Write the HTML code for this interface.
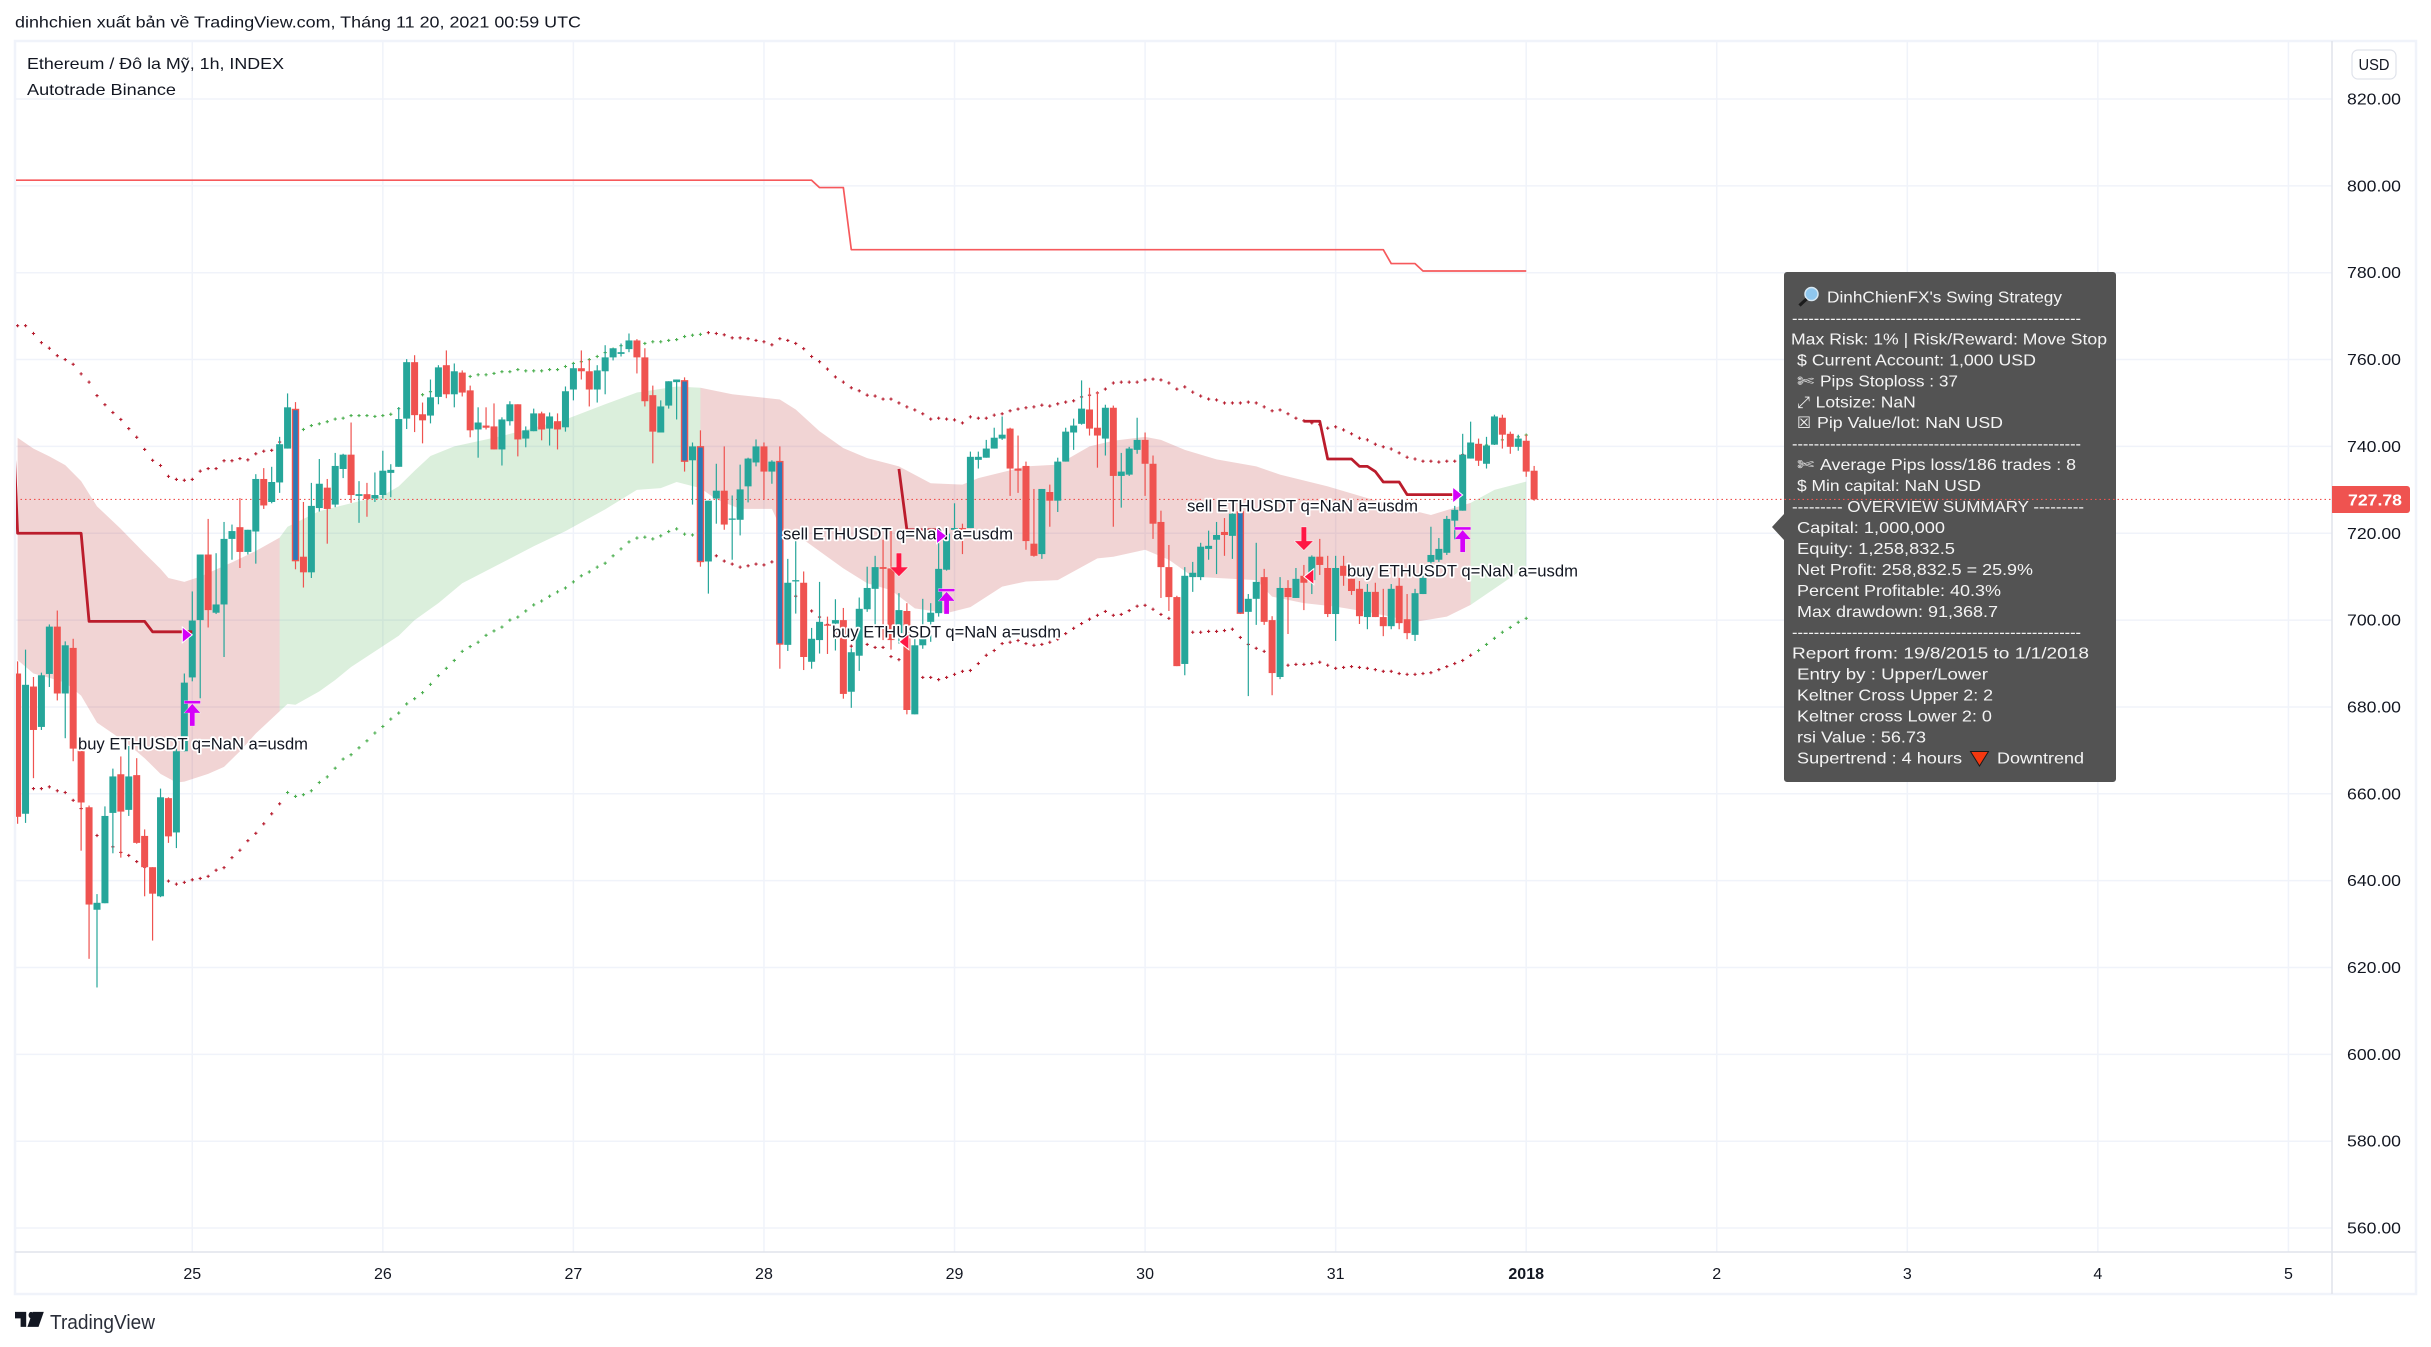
<!DOCTYPE html>
<html lang="vi">
<head>
<meta charset="utf-8">
<title>Ethereum / Đô la Mỹ, 1h, INDEX</title>
<style>
html,body{margin:0;padding:0;background:#fff;width:2431px;height:1347px;overflow:hidden}
svg{display:block}
text{font-family:"Liberation Sans","DejaVu Sans",sans-serif;font-size:16px;fill:#131722}
.p text{fill:#f4f4f4}
.sym{font-family:"DejaVu Sans","Liberation Sans",sans-serif!important}
.sig{paint-order:stroke;stroke:#fff;stroke-width:3.5px;stroke-linejoin:round;fill:#131722;font-size:16.5px}
</style>
</head>
<body>
<svg id="chart" xmlns="http://www.w3.org/2000/svg" width="2431" height="1347" viewBox="0 0 2431 1347">
<defs><clipPath id="plot"><rect x="16" y="42" width="2316" height="1210"/></clipPath></defs>
<rect width="2431" height="1347" fill="#fff"/>
<text x="15" y="27.5" textLength="566" lengthAdjust="spacingAndGlyphs">dinhchien xuất bản về TradingView.com, Tháng 11 20, 2021 00:59 UTC</text>
<rect x="15" y="41" width="2401" height="1253" fill="none" stroke="#f0f3fa" stroke-width="2.5"/>
<g id="grid"></g>
<g clip-path="url(#plot)">
<g id="bands"></g>
<g id="dots"></g>
<g id="topline"></g>
<g id="priceline"></g>
<g id="candles"></g>
<g id="stoplines"></g>
<text class="sig" x="78" y="749.5" textLength="230" lengthAdjust="spacingAndGlyphs">buy ETHUSDT q=NaN a=usdm</text>
<text class="sig" x="783" y="539.5" textLength="230" lengthAdjust="spacingAndGlyphs">sell ETHUSDT q=NaN a=usdm</text>
<text class="sig" x="832" y="637.5" textLength="229" lengthAdjust="spacingAndGlyphs">buy ETHUSDT q=NaN a=usdm</text>
<text class="sig" x="1187" y="511.5" textLength="231" lengthAdjust="spacingAndGlyphs">sell ETHUSDT q=NaN a=usdm</text>
<text class="sig" x="1347" y="576.5" textLength="231" lengthAdjust="spacingAndGlyphs">buy ETHUSDT q=NaN a=usdm</text>
<g id="markers"></g>
</g>
<line x1="2332" y1="41" x2="2332" y2="1294" stroke="#e0e3eb" stroke-width="1.5"/>
<line x1="15" y1="1252" x2="2416" y2="1252" stroke="#e0e3eb" stroke-width="1.5"/>
<g id="axes"></g>
<rect x="2352" y="50" width="44" height="29" rx="6" fill="#fff" stroke="#e0e3eb" stroke-width="1.2"/>
<text x="2374" y="70" text-anchor="middle" font-size="15" textLength="31" lengthAdjust="spacingAndGlyphs">USD</text>
<text x="27" y="69" textLength="257" lengthAdjust="spacingAndGlyphs">Ethereum / Đô la Mỹ, 1h, INDEX</text>
<text x="27" y="95" textLength="149" lengthAdjust="spacingAndGlyphs">Autotrade Binance</text>

<g class="p">
<path d="M1787 272H2113a3 3 0 0 1 3 3V779a3 3 0 0 1-3 3H1787a3 3 0 0 1-3-3V540L1772 527L1784 514V275a3 3 0 0 1 3-3Z" fill="#535353"/>
<g><circle cx="1811.5" cy="294" r="6.5" fill="#8fc7ee" stroke="#d8e8f2" stroke-width="1.5"/><line x1="1806.5" y1="299" x2="1799.5" y2="305.5" stroke="#1c1c1c" stroke-width="3.2"/></g>
<text x="1827" y="302.5" textLength="235" lengthAdjust="spacingAndGlyphs">DinhChienFX's Swing Strategy</text>
<text x="1792" y="323.5" textLength="289" lengthAdjust="spacingAndGlyphs">-----------------------------------------------------</text>
<text x="1791" y="344.4" textLength="316" lengthAdjust="spacingAndGlyphs">Max Risk: 1% | Risk/Reward: Move Stop</text>
<text x="1797" y="365.4" textLength="239" lengthAdjust="spacingAndGlyphs">$ Current Account: 1,000 USD</text>
<text class="sym" x="1797" y="386.3" textLength="17" lengthAdjust="spacingAndGlyphs">✄</text>
<text x="1820" y="386.3" textLength="138" lengthAdjust="spacingAndGlyphs">Pips Stoploss : 37</text>
<text class="sym" x="1797" y="407.3" textLength="13" lengthAdjust="spacingAndGlyphs">⤢</text>
<text x="1815.7" y="407.3" textLength="100" lengthAdjust="spacingAndGlyphs">Lotsize: NaN</text>
<text class="sym" x="1797" y="428.2" textLength="14" lengthAdjust="spacingAndGlyphs">☒</text>
<text x="1817" y="428.2" textLength="186" lengthAdjust="spacingAndGlyphs">Pip Value/lot: NaN USD</text>
<text x="1792" y="449.2" textLength="289" lengthAdjust="spacingAndGlyphs">-----------------------------------------------------</text>
<text class="sym" x="1797" y="470.1" textLength="17" lengthAdjust="spacingAndGlyphs">✄</text>
<text x="1820" y="470.1" textLength="256" lengthAdjust="spacingAndGlyphs">Average Pips loss/186 trades : 8</text>
<text x="1797" y="491.1" textLength="184" lengthAdjust="spacingAndGlyphs">$ Min capital: NaN USD</text>
<text x="1792" y="512" textLength="292" lengthAdjust="spacingAndGlyphs">--------- OVERVIEW SUMMARY ---------</text>
<text x="1797" y="532.9" textLength="148" lengthAdjust="spacingAndGlyphs">Capital: 1,000,000</text>
<text x="1797" y="553.9" textLength="158" lengthAdjust="spacingAndGlyphs">Equity: 1,258,832.5</text>
<text x="1797" y="574.9" textLength="236" lengthAdjust="spacingAndGlyphs">Net Profit: 258,832.5 = 25.9%</text>
<text x="1797" y="595.8" textLength="204" lengthAdjust="spacingAndGlyphs">Percent Profitable: 40.3%</text>
<text x="1797" y="616.8" textLength="201" lengthAdjust="spacingAndGlyphs">Max drawdown: 91,368.7</text>
<text x="1792" y="637.7" textLength="289" lengthAdjust="spacingAndGlyphs">-----------------------------------------------------</text>
<text x="1792" y="658.7" textLength="297" lengthAdjust="spacingAndGlyphs">Report from: 19/8/2015 to 1/1/2018</text>
<text x="1797" y="679.6" textLength="191" lengthAdjust="spacingAndGlyphs">Entry by : Upper/Lower</text>
<text x="1797" y="700.6" textLength="196" lengthAdjust="spacingAndGlyphs">Keltner Cross Upper 2: 2</text>
<text x="1797" y="721.5" textLength="195" lengthAdjust="spacingAndGlyphs">Keltner cross Lower 2: 0</text>
<text x="1797" y="742.5" textLength="129" lengthAdjust="spacingAndGlyphs">rsi Value : 56.73</text>
<text x="1797" y="763.4" textLength="165" lengthAdjust="spacingAndGlyphs">Supertrend : 4 hours</text>
<polygon points="1970.5,751.5 1988.5,751.5 1979.5,766" fill="#f4380f" stroke="#1a1a1a" stroke-width="1"/>
<text x="1997" y="763.4" textLength="87" lengthAdjust="spacingAndGlyphs">Downtrend</text>
</g>
<g id="priceline2"></g>
<path d="M2332 486H2407a3 3 0 0 1 3 3V510a3 3 0 0 1-3 3H2332Z" fill="#ef5350"/>
<text x="2348" y="505.5" textLength="54" lengthAdjust="spacingAndGlyphs" font-weight="bold" style="fill:#fff">727.78</text>
<g transform="translate(15,1305.5) scale(.8,1.07)" fill="#131722"><path d="M14 6H0v6h7v8h7V6Z"/><circle cx="20" cy="9" r="3"/><path d="M22.2 20h-6.7l6.6-14H36l-6.6 14h-7.2Z" /></g>
<text x="50" y="1329" font-size="20" textLength="105" lengthAdjust="spacingAndGlyphs" style="font-size:20px;fill:#2a2e39">TradingView</text>
</svg>
<script>
const priceTicks = [820,800,780,760,740,720,700,680,660,640,620,600,580,560];
const dayLabels = ["25","26","27","28","29","30","31","2018","2","3","4","5"];
const dayStartBars = [22,46,70,94,118,142,166,190,214,238,262,286];
const opens = [
687.7,655.4,684.7,675.4,687.6,698.5,683.1,693.6,670.1,656.9,
633.3,634.8,655.6,664.5,656.3,664.3,650.3,643.1,636.4,659,
651.1,669.8,686.8,700,715.1,701.7,703.6,718.7,721.4,715.7,
720.4,732.5,727.2,731.7,739.5,748.5,714.6,711,725.8,730.5,
726.6,734.8,738.1,728.6,729,728,728.8,733.9,735.3,746.4,
759.4,747.4,747.1,751.4,758.7,752,757,752.9,743.9,744.8,
744.6,739.3,745.8,749.7,741.8,743.5,747.6,744.1,745.8,744.4,
753.1,758,757.3,753.1,757.3,760.5,761.3,762.4,764.4,760.5,
751.8,743.2,749.4,754.8,755.1,736.8,739.9,713.5,728,729.8,
723.1,723.1,730.8,736.3,740,734.2,736.5,694.3,708.9,708.6,
690.4,695.4,699,699.2,700,683.5,691.8,702.5,707.2,712.2,
711.9,697,702.1,678.3,694.2,699.6,701.6,711.6,720.8,721.2,
721.2,736.9,737.4,739.5,741.8,744.1,734.9,735.5,717.6,715.2,
729.5,727.5,736.5,743.2,745.2,748.5,744.3,741.8,748.9,733.2,
733.5,739.2,741.5,736,722.6,712.2,705.3,689.9,709.9,709.9,
716.4,718.5,720.3,719.4,724.9,701.9,704.9,709.9,700,686.9,
707.4,705.1,710.2,709.2,714.6,712,701.4,712.5,709.5,707.2,
700.7,706.5,700.7,698.6,707.9,700.2,696.6,706,713.4,713.9,
715.5,722.9,725.2,737.2,740.6,736,740.4,746.6,742.9,739.9,741.3,734.4];
const highs = [
690.5,693.2,686.9,687.9,699,702.2,695.1,695.7,670.1,657.3,
636.9,657.1,665.8,668.6,671,668.2,651.8,643.1,661.2,659.2,
671.3,687.7,706.6,715.1,723.3,715.4,722.6,722,728.1,720.8,
733.6,735,735.3,742.2,752.2,750.2,727.2,731.6,737.1,732.5,
738.5,738.3,745.5,732,731.6,734,739,735.9,749,760.1,
761,750.1,755.4,758.7,762.1,759.1,757.5,754,749,749,
749.9,746.7,750.4,749.7,744.6,748.7,748,747.8,747.6,753.8,
759.1,762.1,760,758.7,763.3,762.6,763.7,766,764.7,762.6,
754,750.6,755,755.4,755.9,740.9,743.7,727.5,736,740,
728.7,735.8,737.4,741.6,740.9,736.8,740,714.1,718.3,711.2,
698.2,708.8,700.8,704.8,702.8,693.5,705.2,712.3,714.8,718.5,
720.8,706.2,703.9,696,704.9,703.9,717.7,720.8,726.9,722.2,
738.8,738.8,741.5,744.3,746.9,744.3,742.5,736.5,730.2,730.2,
731.2,737.4,744.3,746.4,755.2,753.5,752.6,749.6,749.4,738.5,
739.9,746.6,743.2,737.9,725.2,717.3,705.6,712.2,713.4,717.8,
720.6,722.6,723.5,725.6,726.5,706,717.8,711.8,700.9,709.9,
709.2,712,712.7,714.9,718.7,714.8,714.8,714.8,709.5,709,
708.3,708.6,707.2,708.3,709.7,706,707.2,711.6,721.5,718.9,
724,726.3,742.9,745.7,741.8,742.2,747.3,747.3,743.4,742.7,742.7,735.5];
const lows = [
653.1,653.3,663.6,674.7,684.6,681.5,672.8,667.5,646.9,622,
615.4,634.8,646.3,645.3,654.9,648.5,636.4,626.2,636.2,648.7,
647.5,669.8,685.9,682,698.3,701.4,691.5,713.9,712,715.1,
713,725.6,726.9,729.3,739.5,711.7,707.5,709.7,725,717.6,
726,732.7,727,722.4,723.8,727.2,728,728.3,735.3,744,
743.3,740.7,745.3,749.7,751.1,749,751.5,742.1,737.4,743.9,
739.3,735.6,744.8,737.7,739.8,743.5,741.4,740.2,739.3,743.4,
750.6,755.4,749.2,750.1,752,759.8,760.7,761.7,756.8,749.2,
736.1,743.2,748.7,746.2,734.2,726.6,712.3,706.1,722.2,720.8,
713.9,719.5,727.1,735.4,727.8,731.4,688.8,692.9,701.5,688.5,
688.8,692.3,692.2,693,681.9,679.8,688.3,701.9,698.6,695.4,
693.2,694.6,678.3,678.3,693.4,695,700.8,711.4,718.5,715.2,
721.2,734.9,737.4,739.5,741.5,728.6,729.3,716.2,714.6,714.1,
721.5,724.9,736.5,739.2,745,742.5,735.1,737.9,721.5,725.9,
733.2,738.3,728.6,718.7,705.1,702.1,689.4,687.3,706.5,709.2,
713.9,710.6,714.8,714.1,701.4,682.5,698.9,698.9,682.7,686.4,
696.8,705.1,702.3,706,710.4,700.7,695.2,707.9,705.8,699.1,
697.9,700.7,696.3,697.9,697.9,695.6,695.2,706,711,713.4,
715,718.5,725.2,737.2,735.5,734.9,740.4,739.5,738.3,739,733,727.5];
const closes = [
654.7,685.1,674.7,687.3,698.5,683.1,694.2,670.4,658,634.5,
634.9,654.9,664,655.9,664,648.7,643.1,637,659.2,650.2,
669.8,685.6,699.9,715.1,702.3,703.6,718.7,720.5,715.7,720.8,
732.5,726.4,731.8,740.5,749,713.7,711,726.3,731.4,725.6,
735.5,738.1,728.8,729,727.9,728.8,734.4,734.6,746.3,759.4,
747.2,746,751.3,758.2,752,757.3,752.4,743.7,745.5,744.3,
739.3,746.2,749.7,741.6,743.7,747.6,743.9,746.9,743.9,752.7,
758,757.3,753.1,757.5,760.5,762.6,761.7,764.4,760.5,750.4,
743.4,749.2,755,755.4,736.6,740,713.5,727.5,729.8,722,
723.4,730.1,737.2,740,734.2,736.5,694.5,708.6,709.2,691.5,
695.7,699.6,698.7,700,683,692.6,702.6,707.4,712.2,711.8,
695.4,702.3,679.3,694.2,696.2,701.7,711.8,719.9,721.2,720,
737.6,737.6,739.5,742,742.7,734.9,734.4,718.2,714.8,730.2,
727.5,736.5,743.4,744.8,748.7,744.1,742.5,748.9,733.2,734.2,
739.5,741.5,736,722.2,712.2,705.3,689.4,710.2,710.9,716.9,
717.1,719.6,719.6,724.5,701.6,704.9,708.8,699.6,687.8,707.4,
705.3,709.5,708.6,714.6,712.7,701.4,712,710.2,706.7,700.9,
706.5,700.7,698.6,707.2,699.3,697,706.2,709.7,715,716.4,
723.3,725.4,738.1,740.9,736.7,740.2,746.9,742.7,739.9,741.8,734.2,727.78];
const highlightedBars = [35,84,86,96,154];
const lastPrice = 727.78;
const upperDots = [
767.8,767.8,766,763.9,762.6,760.9,760,758.9,756.7,754.8,
751.7,749.6,747.8,746.2,744.1,742.1,739.3,736.8,735.6,733.1,
732.4,732.2,732.4,734.3,734.9,734.9,736.7,736.7,737.2,736.9,
738.3,738.9,739.1,741,742,743,743.9,744.8,745.2,745.7,
746.3,746.5,747.1,747.1,747.1,746.9,747.1,747.4,748.7,750,
751,751.9,752.6,753.5,754.3,755,755.5,756.1,756.5,756.5,
756.8,757.2,757.2,757.7,757.4,757.4,757.4,757.7,757.7,758.4,
759.1,759.5,760,760.7,761.6,762.4,763.2,763.9,764,763.7,
764.1,764.1,764.4,764.6,765.3,765.6,765.8,766.2,766,765.7,
765,765,764.8,764.4,764.1,763.4,764.8,764.4,763.7,762.5,
760.7,759.5,757.8,756,754.8,753.5,752.8,751.8,751.6,750.9,
750.9,750,749.1,748.4,747.5,746.3,746.5,746.3,746.1,745.4,
746.8,746.5,746.5,747.2,747.5,748.2,748.6,748.9,749.1,749.5,
749.3,749.8,750.2,750.5,751.4,751.8,752.3,753.2,754.6,754.8,
754.8,754.8,755.3,755.5,755.3,754.6,753.2,753.7,752.5,751.6,
750.9,750.7,750,750,750,750.2,750,749.1,748.2,748.4,
747.5,746.5,745.9,745.4,745,744.2,744.5,743.8,742.9,741.9,
741.5,740.5,739.9,739.4,738.5,737.5,737.1,736.6,736.6,736.4,
736.6,736.6,738.1,739,739.8,740.3,740.7,741.5,741.9,742.2,742.6];
const lowerDots = [
661.6,661.3,661.2,661.2,661.6,660.7,660.3,658.5,656.6,654,
650.4,648,647.8,646.5,645.8,644.4,643.1,641,639.5,639.9,
639.2,639.6,640.2,640.5,641,642.4,643,645.3,647,649.2,
650.9,653.1,655.4,657.7,660.3,659.4,659.8,660.7,662.6,663.9,
665.9,668,669,670.6,672.2,674,675.5,677.2,678.6,680.7,
681.9,683.3,685.2,687.2,688.9,690.7,692.8,693.9,694.9,696.5,
697.5,698.4,700,700.7,702.1,703.5,704.4,705.5,706.5,707.4,
708.8,710.2,711.1,712.2,713.1,714.8,716.4,718,718.9,719.1,
718.7,719.4,720.4,721,719.8,719.6,717,716,714.8,713.6,
712.9,712.2,712.5,712.9,712.7,713.4,711,708,705.5,703.5,
702.1,700.7,699,697,695,694,693.5,694.4,693.7,693.7,
691.6,690.9,690,689,686.8,686.8,686.3,686.8,687.5,688.2,
688.4,690,691.9,693,694.6,694.9,695.3,694.6,694.2,694.4,
694.9,695.6,696.9,698.1,699.2,700.2,701.1,702,701.1,701.3,
702.2,703.2,703.4,702.5,701.3,700.4,698,696,697.2,697.2,
697.4,697.4,697.6,697.9,696,694.4,693.5,692.8,691,690,
689.6,689.8,689.8,690,690.3,689.6,688.9,689.1,689.3,689.1,
688.9,688.6,688.2,688.2,687.7,687.5,687.5,687.7,687.9,688.6,
689.3,690,690.7,691.9,693,694.4,695.8,697.2,698.3,699.5,700.4];
const bandUpperBars = [0,2,4,6,8,10,13,16,18,19,21,23,27,30,33,34,38,46,48,50,52,55,61,69,74,78,83,86,90,96,98,101,104,107,111,115,119,121,127,131,135,138,142,144,147,151,156,159,165,170,174,178,183,186,190];
const bandUpperValues = [742,739.5,737.7,735.7,732,726.2,721,715.4,711.8,709.7,708.8,710,713.3,715.9,719,721.5,725.1,728.7,730.8,734.4,737.8,740,742.4,746.2,749.7,752.4,753.8,753.5,752,750.8,748.5,743.5,739.6,737.3,735.4,731.5,731.2,732.7,735.4,735.8,740,741.3,742.2,741.5,739.2,737,735.4,733.5,730.8,728.1,726,724.2,727,730,731.9];
const bandLowerBars = [0,2,4,6,8,10,12,14,16,18,20,21,24,26,28,30,33,34,35,38,40,42,45,48,50,53,56,61,65,69,74,78,81,83,86,88,91,95,96,99,104,107,110,113,117,120,124,127,131,136,138,142,145,148,156,158,162,166,170,176,180,183,187,190];
const bandLowerValues = [690.8,687.7,686.7,685.6,682.6,676.4,673.9,671.3,668.2,664.6,662.6,662.8,664.6,666.2,669.8,673.9,679,680.7,680.5,683.6,686.2,689.2,692.8,696.4,700,703.9,708.5,713.2,717,720.5,725.5,730,730.4,731.8,730.4,727.8,725.6,725.6,721.6,718.5,711.9,708.5,706.9,702.7,701.6,703,707.7,708.9,709.2,714.2,714.6,716.2,713.9,710,709.2,705.4,703.9,703.1,701.9,699.6,700.8,703.5,708.5,712.3];
const trendStartBars = [0,33,86,183];
const trendEndBars = [33,86,183,190];
const trendIsUp = [false,true,false,true];
const topLineBars = [-2,100,101,104,105,172,173,176,177,190];
const topLineValues = [801.3,801.3,799.6,799.6,785.3,785.3,782.1,782.1,780.4,780.4];
const stopABars = [-1,0,8,9,16,17,22];
const stopAValues = [764.6,720,720,699.7,699.7,697.3,697.3];
const stopBBars = [111,112,116];
const stopBValues = [734.8,720.8,720.8];
const stopCBars = [162,164,165,168,169,170,171,172,174,175,181];
const stopCValues = [745.8,745.8,737.1,737.1,735.4,735.4,734.2,731.8,731.8,728.9,728.9];
const buyArrowBars = [22,117,182];
const buyArrowPrices = [681.4,707.2,721.4];
const buyFlagBars = [22,117,182];
const buyFlagPrices = [696.6,719.4,728.8];
const sellArrowBars = [111,162];
const sellArrowPrices = [710.1,716.1];
const sellFlagBars = [111,162];
const sellFlagPrices = [695,710];

const NS = 'http://www.w3.org/2000/svg';
function x(bar){ return 17.6 + 7.94 * bar; }
function y(price){ return 99 + (820 - price) * 4.3425; }
function mk(tag, attrs, parent){
  const el = document.createElementNS(NS, tag);
  for (const k in attrs) el.setAttribute(k, attrs[k]);
  parent.appendChild(el);
  return el;
}
const $ = function(id){ return document.getElementById(id); };

// grid and axis labels
priceTicks.forEach(function(p){
  const g = mk('line', {x1:16, x2:2332, y1:y(p), y2:y(p), stroke:'#f0f3fa', 'stroke-width':1.5}, $('grid'));
  
  
  const t = mk('text', {x:2374, y:y(p)+5.5, 'text-anchor':'middle', textLength:54, lengthAdjust:'spacingAndGlyphs'}, $('axes'));
  
  
  t.textContent = p.toFixed(2);
});
dayLabels.forEach(function(d, i){
  const px = x(dayStartBars[i]);
  const g = mk('line', {x1:px, x2:px, y1:42, y2:1252, stroke:'#f0f3fa', 'stroke-width':1.5}, $('grid'));
  
  
  const t = mk('text', {x:px, y:1279, 'text-anchor':'middle'}, $('axes'));
  
  
  if (d === '2018') t.setAttribute('font-weight', 'bold');
  t.textContent = d;
});

// band fills
function bandValue(bars, vals, b){
  for (let i = 1; i < bars.length; i++) {
    if (b <= bars[i]) return vals[i-1] + (vals[i]-vals[i-1]) * (b-bars[i-1]) / (bars[i]-bars[i-1]);
  }
  return vals[vals.length-1];
}
trendStartBars.forEach(function(a, i){
  const b = trendEndBars[i];
  const pts = [];
  pts.push(x(a)+','+y(bandValue(bandUpperBars, bandUpperValues, a)));
  bandUpperBars.forEach(function(bar, j){ if (bar > a && bar < b) pts.push(x(bar)+','+y(bandUpperValues[j])); });
  pts.push(x(b)+','+y(bandValue(bandUpperBars, bandUpperValues, b)));
  pts.push(x(b)+','+y(bandValue(bandLowerBars, bandLowerValues, b)));
  for (let j = bandLowerBars.length-1; j >= 0; j--) {
    if (bandLowerBars[j] > a && bandLowerBars[j] < b) pts.push(x(bandLowerBars[j])+','+y(bandLowerValues[j]));
  }
  pts.push(x(a)+','+y(bandValue(bandLowerBars, bandLowerValues, a)));
  const poly = mk('polygon', {points:pts.join(' '), fill:trendIsUp[i] ? 'rgba(76,175,80,.2)' : 'rgba(183,28,28,.19)'}, $('bands'));
  
  
});

// channel dots
function dotColor(bar){
  return (bar >= 34 && bar <= 86) || bar >= 184 ? '#4caf50' : '#b71c2e';
}
function drawDot(bar, price, name){
  const px = x(bar), py = y(price);
  const d = mk('path', {d:'M'+(px-1.6)+' '+py+'h3.2M'+px+' '+(py-1.6)+'v3.2', stroke:dotColor(bar), 'stroke-width':1.1, fill:'none'}, $('dots'));
  
  
}
upperDots.forEach(function(p, i){ drawDot(i, p, 'upper-channel-dot'); });
lowerDots.forEach(function(p, i){ drawDot(i, p, 'lower-channel-dot'); });

// stepped lines
function polyline(bars, vals, parent, stroke, width){
  return mk('polyline', {points:bars.map(function(b, i){ return x(b)+','+y(vals[i]); }).join(' '), fill:'none', stroke:stroke, 'stroke-width':width, 'stroke-linejoin':'round'}, parent);
}
const top1 = polyline(topLineBars, topLineValues, $('topline'), '#f6595c', 1.7);


const s1 = polyline(stopABars, stopAValues, $('stoplines'), '#bb1c2c', 2.8);


const s2 = polyline(stopBBars, stopBValues, $('stoplines'), '#bb1c2c', 2.8);


const s3 = polyline(stopCBars, stopCValues, $('stoplines'), '#bb1c2c', 2.8);



// last price lines
const pl = mk('line', {x1:16, x2:2332, y1:y(lastPrice), y2:y(lastPrice), stroke:'#ef5350', 'stroke-width':1.1, 'stroke-dasharray':'1.5 3'}, $('priceline'));


const pl2 = mk('line', {x1:1780, x2:2116, y1:y(lastPrice), y2:y(lastPrice), stroke:'#ef5350', 'stroke-width':1.1, 'stroke-dasharray':'1.5 3'}, $('priceline2'));



// candles
closes.forEach(function(c, i){
  const o = opens[i], up = c >= o;
  const col = up ? '#26a69a' : '#ef5350';
  const px = x(i);
  const wick = mk('rect', {x:px-0.6, width:1.2, y:y(highs[i]), height:Math.max(1, y(lows[i])-y(highs[i])), fill:col}, $('candles'));
  
  
  const top = y(Math.max(o, c)), h = Math.max(1.2, Math.abs(y(o)-y(c)));
  const hl = highlightedBars.indexOf(i) >= 0;
  const body = hl
    ? mk('rect', {x:px-3, width:6, y:top, height:h, fill:'#2a7ab8', stroke:'#ef5350', 'stroke-width':1.4}, $('candles'))
    : mk('rect', {x:px-3.5, width:7, y:top, height:h, fill:col}, $('candles'));
  
  
});

// trade markers
const MAG = '#d500f9', RED = '#ff1744';
buyArrowBars.forEach(function(b, i){
  const px = x(b), py = y(buyArrowPrices[i]);
  const g = mk('path', {d:'M'+(px-8)+' '+py+'h16v2.6h-16ZM'+px+' '+(py+3)+'l8 9h-5.6v13h-4.8v-13h-5.6Z', fill:MAG, stroke:'#fff', 'stroke-width':.6, 'paint-order':'stroke'}, $('markers'));
  
  
});
buyFlagBars.forEach(function(b, i){
  const px = x(b), py = y(buyFlagPrices[i]);
  const g = mk('polygon', {points:(px-10)+','+(py-8)+' '+px+','+py+' '+(px-10)+','+(py+8), fill:MAG, stroke:'#fff', 'stroke-width':1}, $('markers'));
  
  
});
sellArrowBars.forEach(function(b, i){
  const px = x(b), py = y(sellArrowPrices[i]);
  const g = mk('path', {d:'M'+px+' '+py+'l-9-9h6.5v-14h5v14h6.5Z', fill:RED, stroke:'#fff', 'stroke-width':.8, 'paint-order':'stroke'}, $('markers'));
  
  
});
sellFlagBars.forEach(function(b, i){
  const px = x(b), py = y(sellFlagPrices[i]);
  const g = mk('polygon', {points:px+','+py+' '+(px+10)+','+(py-8)+' '+(px+10)+','+(py+8), fill:RED, stroke:'#fff', 'stroke-width':1}, $('markers'));
  
  
});
</script>
</body>
</html>
